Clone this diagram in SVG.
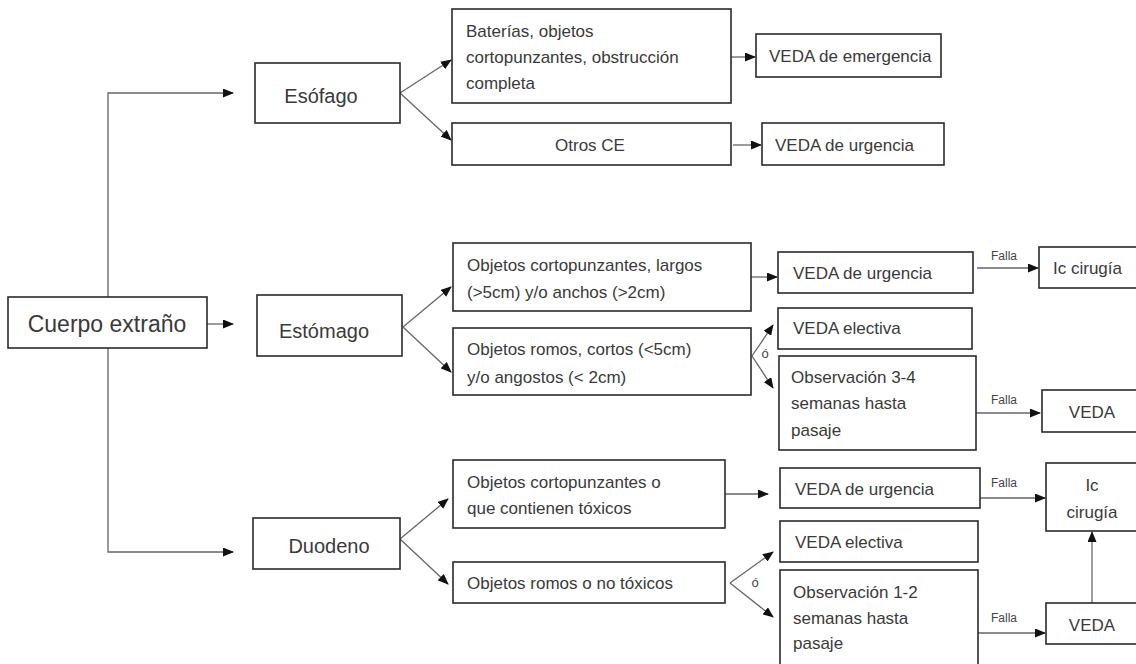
<svg xmlns="http://www.w3.org/2000/svg" width="1136" height="664" viewBox="0 0 1136 664">
<style>
.box{fill:#fff;stroke:#2a2a2a;stroke-width:1.6}
.t{font-family:"Liberation Sans",Arial,sans-serif;font-size:17px;fill:#3a3a3a}
.big{font-size:23px}
.mid{font-size:20px}
.sm{font-family:"Liberation Sans",Arial,sans-serif;font-size:12px;fill:#444}
.c{fill:none;stroke:#666;stroke-width:1.3}
</style>
<defs>
<marker id="ah" markerWidth="11" markerHeight="9" refX="10" refY="4.5" orient="auto" markerUnits="userSpaceOnUse">
<path d="M0,0 L11,4.5 L0,9 Z" fill="#111"/>
</marker>
</defs>
<rect width="1136" height="664" fill="#fff"/>
<g id="connectors">
<path class="c" d="M108,324 V93 H233" marker-end="url(#ah)"/>
<path class="c" d="M108,324 V552 H233" marker-end="url(#ah)"/>
<path class="c" d="M207,324 H233" marker-end="url(#ah)"/>
<path class="c" d="M400,93 L451,60" marker-end="url(#ah)"/>
<path class="c" d="M400,93 L451,140" marker-end="url(#ah)"/>
<path class="c" d="M731,57 H755" marker-end="url(#ah)"/>
<path class="c" d="M733,145 H761" marker-end="url(#ah)"/>
<path class="c" d="M403,327 L451,287" marker-end="url(#ah)"/>
<path class="c" d="M403,327 L451,372" marker-end="url(#ah)"/>
<path class="c" d="M751,277 H777" marker-end="url(#ah)"/>
<path class="c" d="M752,356 L773,325" marker-end="url(#ah)"/>
<path class="c" d="M752,356 L773,388" marker-end="url(#ah)"/>
<path class="c" d="M977,268 H1038" marker-end="url(#ah)"/>
<path class="c" d="M976,413 H1040" marker-end="url(#ah)"/>
<path class="c" d="M400,539 L448,499" marker-end="url(#ah)"/>
<path class="c" d="M400,539 L448,584" marker-end="url(#ah)"/>
<path class="c" d="M725,494 H768" marker-end="url(#ah)"/>
<path class="c" d="M730,583 L773,552" marker-end="url(#ah)"/>
<path class="c" d="M730,583 L773,617" marker-end="url(#ah)"/>
<path class="c" d="M980,498 H1045" marker-end="url(#ah)"/>
<path class="c" d="M978,633 H1045" marker-end="url(#ah)"/>
<path class="c" d="M1092,603 V532" marker-end="url(#ah)"/>
<text class="sm" x="1004" y="260" text-anchor="middle">Falla</text>
<text class="sm" x="1004" y="404" text-anchor="middle">Falla</text>
<text class="sm" x="1004" y="487" text-anchor="middle">Falla</text>
<text class="sm" x="1004" y="622" text-anchor="middle">Falla</text>
<text class="sm" x="765" y="358" text-anchor="middle" style="font-size:13px">ó</text>
<text class="sm" x="755" y="587" text-anchor="middle" style="font-size:13px">ó</text>
</g>
<g id="cuerpo"><rect class="box" x="8" y="297" width="199" height="51"/><text class="t big" x="107" y="332" text-anchor="middle">Cuerpo extraño</text></g>
<g id="esofago"><rect class="box" x="255" y="63" width="145" height="60"/><text class="t mid" x="321" y="103" text-anchor="middle">Esófago</text></g>
<g id="estomago"><rect class="box" x="257" y="295" width="145" height="61"/><text class="t mid" x="324" y="338" text-anchor="middle">Estómago</text></g>
<g id="duodeno"><rect class="box" x="253" y="518" width="147" height="51"/><text class="t mid" x="329" y="553" text-anchor="middle">Duodeno</text></g>
<g id="baterias"><rect class="box" x="452" y="9" width="279" height="94"/><text class="t" x="466" y="37">Baterías, objetos</text><text class="t" x="466" y="63">cortopunzantes, obstrucción</text><text class="t" x="466" y="89">completa</text></g>
<g id="otros"><rect class="box" x="452" y="123" width="279" height="42"/><text class="t" x="590" y="151" text-anchor="middle">Otros CE</text></g>
<g id="veda-emergencia"><rect class="box" x="756" y="34" width="185" height="43"/><text class="t" x="769" y="62">VEDA de emergencia</text></g>
<g id="veda-urgencia-1"><rect class="box" x="762" y="123" width="182" height="42"/><text class="t" x="775" y="151">VEDA de urgencia</text></g>
<g id="est-corto"><rect class="box" x="453" y="243" width="298" height="68"/><text class="t" x="467" y="271">Objetos cortopunzantes, largos</text><text class="t" x="467" y="298">(&gt;5cm) y/o anchos (&gt;2cm)</text></g>
<g id="est-romos"><rect class="box" x="453" y="328" width="298" height="67"/><text class="t" x="467" y="355">Objetos romos, cortos (&lt;5cm)</text><text class="t" x="467" y="383">y/o angostos (&lt; 2cm)</text></g>
<g id="veda-urgencia-2"><rect class="box" x="778" y="252" width="195" height="41"/><text class="t" x="793" y="279">VEDA de urgencia</text></g>
<g id="ic-cirugia-1"><rect class="box" x="1039" y="247" width="100" height="41"/><text class="t" x="1053" y="274">Ic cirugía</text></g>
<g id="veda-electiva-1"><rect class="box" x="778" y="308" width="194" height="41"/><text class="t" x="793" y="334">VEDA electiva</text></g>
<g id="obs-34"><rect class="box" x="779" y="356" width="197" height="94"/><text class="t" x="791" y="383">Observación 3-4</text><text class="t" x="791" y="409">semanas hasta</text><text class="t" x="791" y="436">pasaje</text></g>
<g id="veda-1"><rect class="box" x="1042" y="390" width="100" height="42"/><text class="t" x="1092" y="418" text-anchor="middle">VEDA</text></g>
<g id="duo-corto"><rect class="box" x="453" y="460" width="272" height="68"/><text class="t" x="467" y="488">Objetos cortopunzantes o</text><text class="t" x="467" y="514">que contienen tóxicos</text></g>
<g id="duo-romos"><rect class="box" x="453" y="562" width="272" height="41"/><text class="t" x="467" y="589">Objetos romos o no tóxicos</text></g>
<g id="veda-urgencia-3"><rect class="box" x="780" y="468" width="200" height="40"/><text class="t" x="795" y="495">VEDA de urgencia</text></g>
<g id="veda-electiva-2"><rect class="box" x="780" y="521" width="198" height="41"/><text class="t" x="795" y="548">VEDA electiva</text></g>
<g id="obs-12"><rect class="box" x="780" y="570" width="198" height="100"/><text class="t" x="793" y="598">Observación 1-2</text><text class="t" x="793" y="624">semanas hasta</text><text class="t" x="793" y="649">pasaje</text></g>
<g id="ic-cirugia-2"><rect class="box" x="1046" y="463" width="100" height="68"/><text class="t" x="1092" y="491" text-anchor="middle">Ic</text><text class="t" x="1092" y="518" text-anchor="middle">cirugía</text></g>
<g id="veda-2"><rect class="box" x="1046" y="603" width="100" height="41"/><text class="t" x="1092" y="631" text-anchor="middle">VEDA</text></g>
</svg>
